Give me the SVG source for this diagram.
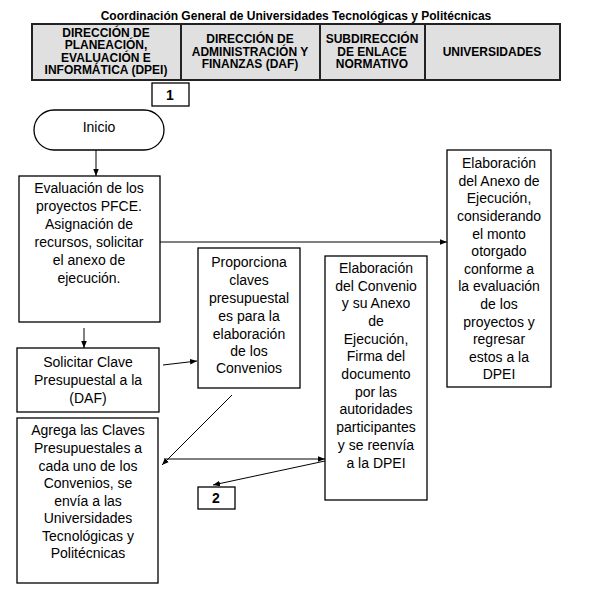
<svg xmlns="http://www.w3.org/2000/svg" width="590" height="592" viewBox="0 0 590 592">
<defs>
<marker id="ah" viewBox="0 0 10 10" refX="10" refY="5" markerWidth="7" markerHeight="7" orient="auto" markerUnits="userSpaceOnUse">
<path d="M0,1 L10,5 L0,9 z" fill="#000"/>
</marker>
<style>
.hd{font-family:"Liberation Sans",Arial,sans-serif;font-weight:bold;font-size:12px;text-anchor:middle;fill:#000}
.t{font-family:"Liberation Sans",Arial,sans-serif;font-size:14px;text-anchor:middle;fill:#000}
.b{fill:#fff;stroke:#000;stroke-width:1.3}
.c{fill:none;stroke:#000;stroke-width:1;marker-end:url(#ah)}
.n{font-family:"Liberation Sans",Arial,sans-serif;font-weight:bold;font-size:14px;text-anchor:middle;fill:#000}
</style>
</defs>
<rect width="590" height="592" fill="#fff"/>
<text x="296" y="20" class="hd">Coordinación General de Universidades Tecnológicas y Politécnicas</text>
<g id="header">
<rect x="32" y="24" width="528" height="56" fill="#e0e0e0" stroke="#222" stroke-width="2"/>
<line x1="181" y1="24" x2="181" y2="80" stroke="#222" stroke-width="2"/>
<line x1="320" y1="24" x2="320" y2="80" stroke="#222" stroke-width="2"/>
<line x1="425" y1="24" x2="425" y2="80" stroke="#222" stroke-width="2"/>
<text class="hd" x="106" y="36.5">DIRECCIÓN DE</text>
<text class="hd" x="106" y="49">PLANEACIÓN,</text>
<text class="hd" x="106" y="61.5">EVALUACIÓN E</text>
<text class="hd" x="106" y="74">INFORMÁTICA (DPEI)</text>
<text class="hd" x="250" y="43">DIRECCIÓN DE</text>
<text class="hd" x="250" y="55.5">ADMINISTRACIÓN Y</text>
<text class="hd" x="250" y="68">FINANZAS (DAF)</text>
<text class="hd" x="372" y="43">SUBDIRECCIÓN</text>
<text class="hd" x="372" y="55.5">DE ENLACE</text>
<text class="hd" x="372" y="68">NORMATIVO</text>
<text class="hd" x="492" y="56">UNIVERSIDADES</text>
</g>
<g id="conn1">
<rect class="b" x="152" y="83" width="37" height="23"/>
<text class="n" x="170" y="100">1</text>
</g>
<g id="inicio">
<rect class="b" x="34" y="110" width="130" height="40" rx="20" ry="20"/>
<text class="t" x="99" y="132">Inicio</text>
</g>
<g id="evaluacion">
<rect class="b" x="19" y="176" width="141" height="146"/>
<text class="t" x="89" y="193">Evaluación de los</text>
<text class="t" x="89" y="211">proyectos PFCE.</text>
<text class="t" x="89" y="229">Asignación de</text>
<text class="t" x="89" y="247">recursos, solicitar</text>
<text class="t" x="89" y="265">el anexo de</text>
<text class="t" x="89" y="283">ejecución.</text>
</g>
<g id="solicitar">
<rect class="b" x="17" y="348" width="142" height="64"/>
<text class="t" x="88" y="367">Solicitar Clave</text>
<text class="t" x="88" y="385">Presupuestal a la</text>
<text class="t" x="88" y="403">(DAF)</text>
</g>
<g id="agrega">
<rect class="b" x="17" y="418" width="141" height="165"/>
<text class="t" x="88" y="435">Agrega las Claves</text>
<text class="t" x="88" y="453">Presupuestales a</text>
<text class="t" x="88" y="471">cada uno de los</text>
<text class="t" x="88" y="488">Convenios, se</text>
<text class="t" x="88" y="506">envía a las</text>
<text class="t" x="88" y="523">Universidades</text>
<text class="t" x="88" y="541">Tecnológicas y</text>
<text class="t" x="88" y="558">Politécnicas</text>
</g>
<g id="proporciona">
<rect class="b" x="198" y="248" width="102" height="140"/>
<text class="t" x="249" y="267">Proporciona</text>
<text class="t" x="249" y="285">claves</text>
<text class="t" x="249" y="303">presupuestal</text>
<text class="t" x="249" y="321">es para la</text>
<text class="t" x="249" y="339">elaboración</text>
<text class="t" x="249" y="356">de los</text>
<text class="t" x="249" y="373">Convenios</text>
</g>
<g id="convenio">
<rect class="b" x="325" y="256" width="102" height="244"/>
<text class="t" x="376" y="273">Elaboración</text>
<text class="t" x="376" y="291">del Convenio</text>
<text class="t" x="376" y="308">y su Anexo</text>
<text class="t" x="376" y="326">de</text>
<text class="t" x="376" y="344">Ejecución,</text>
<text class="t" x="376" y="361">Firma del</text>
<text class="t" x="376" y="379">documento</text>
<text class="t" x="376" y="397">por las</text>
<text class="t" x="376" y="414">autoridades</text>
<text class="t" x="376" y="432">participantes</text>
<text class="t" x="376" y="450">y se reenvía</text>
<text class="t" x="376" y="468">a la DPEI</text>
</g>
<g id="anexo">
<rect class="b" x="447" y="150" width="104" height="237"/>
<text class="t" x="499" y="168">Elaboración</text>
<text class="t" x="499" y="186">del Anexo de</text>
<text class="t" x="499" y="203">Ejecución,</text>
<text class="t" x="499" y="221">considerando</text>
<text class="t" x="499" y="239">el monto</text>
<text class="t" x="499" y="256">otorgado</text>
<text class="t" x="499" y="274">conforme a</text>
<text class="t" x="499" y="291">la evaluación</text>
<text class="t" x="499" y="309">de los</text>
<text class="t" x="499" y="327">proyectos y</text>
<text class="t" x="499" y="344">regresar</text>
<text class="t" x="499" y="362">estos a la</text>
<text class="t" x="499" y="379">DPEI</text>
</g>
<g id="conn2">
<rect class="b" x="198" y="487" width="37" height="22"/>
<text class="n" x="216" y="503">2</text>
</g>
<g id="connectors">
<line class="c" x1="96" y1="150" x2="96" y2="176"/>
<line class="c" x1="160" y1="242" x2="447" y2="242"/>
<line class="c" x1="84" y1="328" x2="84" y2="348"/>
<line class="c" x1="163" y1="365" x2="197" y2="361"/>
<line class="c" x1="232" y1="395" x2="162" y2="465"/>
<line class="c" x1="164" y1="459" x2="325" y2="459"/>
<line class="c" x1="325" y1="461" x2="213" y2="485"/>
</g>
</svg>
